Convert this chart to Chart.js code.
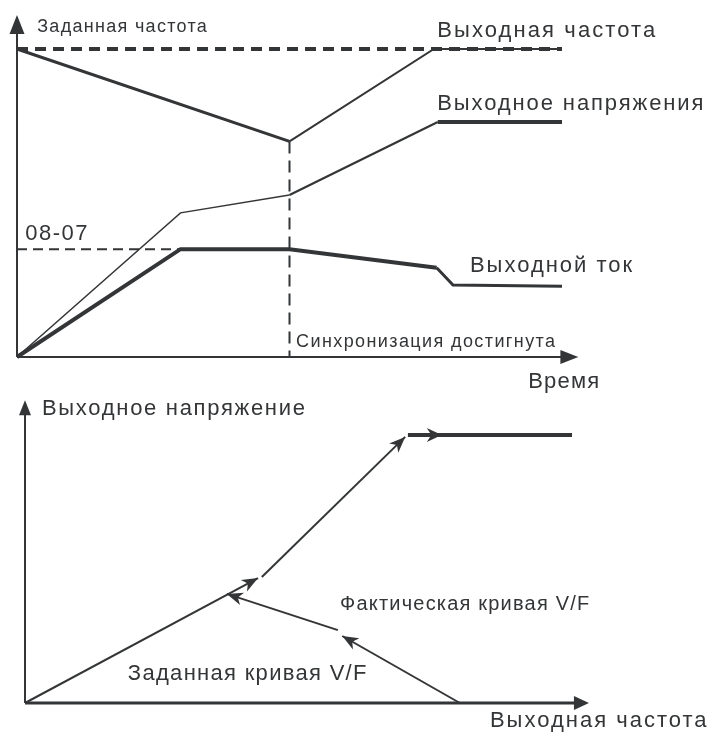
<!DOCTYPE html>
<html lang="ru">
<head>
<meta charset="UTF-8">
<title>Синхронизация частоты</title>
<script src="https://cdn.jsdelivr.net/npm/chart.js@4.4.0/dist/chart.umd.min.js"></script>
<style>
  body { margin: 0; background: #fff; }
  #wrap { position: relative; width: 709px; height: 736px; }
  canvas { position: absolute; left: 0; }
</style>
</head>
<body>
<div id="wrap">
  <canvas id="timeChart" width="709" height="395" style="top:0"></canvas>
  <canvas id="vfChart" width="709" height="346" style="top:390px"></canvas>
</div>
<script>
// ---- top diagram: time (0..100) vs level (0..100) ----
const freqTime = [0, 50, 76.5, 100];
const freqLevel = [100, 70, 100, 100];
const voltTime = [0, 30, 50, 77.2, 100];
const voltLevel = [0, 46.8, 52.6, 76.3, 76.3];
const currTime = [0, 30, 50, 77, 80, 100];
const currLevel = [0, 35, 35, 29, 23.4, 23];
const setFreqLevel = 100;
const limitLevel = 35;      // 08-07
const limitEndTime = 30;
const syncTime = 50;
const syncLevel = 70;

const topTexts = ['Заданная частота', 'Выходная частота', 'Выходное напряжения', '08-07',
  'Выходной ток', 'Синхронизация достигнута', 'Время'];

// ---- bottom diagram: output frequency (0..100) vs output voltage (0..100) ----
const setRiseF = [0, 42.6];
const setRiseV = [0, 46.6];
const setUpF = [43.3, 69.5];
const setUpV = [47, 99.3];
const setTopF = [70, 100];
const setTopV = [100, 100];
const actLowF = [79.5, 58];
const actLowV = [0, 25];
const actMidF = [57.2, 36.9];
const actMidV = [27.2, 40.7];
const topArrowAt = 76.2;

const bottomTexts = ['Выходное напряжение', 'Выходная частота', 'Фактическая кривая V/F', 'Заданная кривая V/F'];

const ink = '#333537';
const font = '"Liberation Sans", Arial, sans-serif';

function pts(xs, ys) {
  return xs.map((x, i) => ({ x: x, y: ys[i] }));
}

// notch = 1 gives a plain triangle, smaller values cut into the back
function arrowHead(ctx, x, y, ang, len, half, notch) {
  ctx.save();
  ctx.translate(x, y);
  ctx.rotate(ang);
  ctx.beginPath();
  ctx.moveTo(0, 0);
  ctx.lineTo(-len, -half);
  ctx.lineTo(-len * notch, 0);
  ctx.lineTo(-len, half);
  ctx.closePath();
  ctx.fillStyle = ink;
  ctx.fill();
  ctx.restore();
}

// axes with arrows + arrowheads on datasets + text labels
const sketchPlugin = {
  id: 'sketch',
  afterDatasetsDraw(chart, args, opts) {
    const ctx = chart.ctx;
    const xs = chart.scales.x, ys = chart.scales.y;
    const x0 = xs.getPixelForValue(0), y0 = ys.getPixelForValue(0);
    const xt = xs.getPixelForValue(opts.axisEnd.x), yt = ys.getPixelForValue(opts.axisEnd.y);
    ctx.save();
    ctx.strokeStyle = ink;
    ctx.lineCap = 'butt';
    // y axis
    ctx.lineWidth = opts.yAxisWidth;
    ctx.beginPath();
    ctx.moveTo(x0, y0);
    ctx.lineTo(x0, yt + 8);
    ctx.stroke();
    arrowHead(ctx, x0, yt, -Math.PI / 2, opts.yArrow[0], opts.yArrow[1], 1);
    // x axis
    ctx.lineWidth = opts.xAxisWidth;
    ctx.beginPath();
    ctx.moveTo(x0, y0);
    ctx.lineTo(xt - 8, y0);
    ctx.stroke();
    arrowHead(ctx, xt, y0, 0, opts.xArrow[0], opts.xArrow[1], 1);

    // arrowheads on datasets
    chart.data.datasets.forEach((ds, i) => {
      if (!ds.arrow) return;
      const meta = chart.getDatasetMeta(i);
      const pa = meta.data[meta.data.length - 2], pb = meta.data[meta.data.length - 1];
      const ang = Math.atan2(pb.y - pa.y, pb.x - pa.x);
      if (ds.arrow === 'end') {
        arrowHead(ctx, pb.x, pb.y, ang, 16, 6.5, 0.72);
      } else if (ds.arrow === 'mid') {
        const last = ds.data[ds.data.length - 1];
        arrowHead(ctx, xs.getPixelForValue(ds.arrowAt), ys.getPixelForValue(last.y), ang, 15, 7, 0.7);
      }
    });

    // texts
    ctx.fillStyle = ink;
    ctx.textBaseline = 'alphabetic';
    ctx.textAlign = 'left';
    opts.labels.forEach(l => {
      ctx.font = l.size + 'px ' + font;
      ctx.letterSpacing = (l.spacing || 0) + 'px';
      ctx.fillText(l.text, xs.getPixelForValue(l.x), ys.getPixelForValue(l.y));
    });
    ctx.restore();
  }
};

function baseOptions(padding, axisEnd, extra) {
  return {
    responsive: false,
    animation: false,
    layout: { padding: padding },
    scales: {
      x: { type: 'linear', display: false, min: 0, max: 100 },
      y: { type: 'linear', display: false, min: 0, max: 100 }
    },
    elements: { point: { radius: 0, hoverRadius: 0 }, line: { tension: 0, borderColor: ink } },
    plugins: {
      legend: { display: false },
      tooltip: { enabled: false },
      sketch: Object.assign({ axisEnd: axisEnd }, extra)
    }
  };
}

// ---------- top chart ----------
const freqWidths = [3, 2, 2];
const voltWidths = [1.5, 1.5, 2.2, 4];
const currWidths = [4, 4, 4, 3, 3];

new Chart(document.getElementById('timeChart'), {
  type: 'line',
  data: {
    datasets: [
      { data: [{ x: 0, y: setFreqLevel }, { x: 100, y: setFreqLevel }], borderColor: ink, borderWidth: 4, borderDash: [11, 7], clip: false },
      { data: pts(freqTime, freqLevel), borderColor: ink, clip: false, segment: { borderWidth: c => freqWidths[c.p0DataIndex] } },
      { data: [{ x: syncTime, y: syncLevel }, { x: syncTime, y: 0 }], borderColor: ink, borderWidth: 2, borderDash: [12, 7], clip: false },
      { data: [{ x: 0, y: limitLevel }, { x: limitEndTime, y: limitLevel }], borderColor: ink, borderWidth: 2, borderDash: [10, 6], clip: false },
      { data: pts(voltTime, voltLevel), borderColor: ink, clip: false, segment: { borderWidth: c => voltWidths[c.p0DataIndex] } },
      { data: pts(currTime, currLevel), borderColor: ink, clip: false, borderJoinStyle: 'miter', segment: { borderWidth: c => currWidths[c.p0DataIndex] } }
    ]
  },
  options: baseOptions({ left: 17, right: 147, top: 49, bottom: 38 }, { x: 103, y: 111 }, {
    xAxisWidth: 2, yAxisWidth: 2, xArrow: [18, 7], yArrow: [19, 7.5],
    labels: [
      { text: topTexts[0], x: 3.7, y: 105.5, size: 18, spacing: 1.3 },
      { text: topTexts[1], x: 77.1, y: 103.9, size: 22, spacing: 2.1 },
      { text: topTexts[2], x: 77.1, y: 80.2, size: 22, spacing: 1.9 },
      { text: topTexts[3], x: 1.5, y: 38, size: 22, spacing: 1.5 },
      { text: topTexts[4], x: 83.1, y: 27.6, size: 22, spacing: 2 },
      { text: topTexts[5], x: 51.2, y: 3.2, size: 18, spacing: 1.4 },
      { text: topTexts[6], x: 93.8, y: -10.1, size: 22, spacing: 1.2 }
    ]
  }),
  plugins: [sketchPlugin]
});

// ---------- bottom chart ----------
new Chart(document.getElementById('vfChart'), {
  type: 'line',
  data: {
    datasets: [
      { data: pts(setRiseF, setRiseV), borderColor: ink, borderWidth: 2, clip: false, arrow: 'end' },
      { data: pts(setUpF, setUpV), borderColor: ink, borderWidth: 2, clip: false, arrow: 'end' },
      { data: pts(setTopF, setTopV), borderColor: ink, borderWidth: 4, clip: false, arrow: 'mid', arrowAt: topArrowAt },
      { data: pts(actLowF, actLowV), borderColor: ink, borderWidth: 2, clip: false, arrow: 'end' },
      { data: pts(actMidF, actMidV), borderColor: ink, borderWidth: 2, clip: false, arrow: 'end' }
    ]
  },
  options: baseOptions({ left: 25, right: 137, top: 45, bottom: 33 }, { x: 103.1, y: 113 }, {
    xAxisWidth: 3, yAxisWidth: 2, xArrow: [15, 7], yArrow: [15, 6],
    labels: [
      { text: bottomTexts[0], x: 3.1, y: 107.5, size: 22, spacing: 1.7 },
      { text: bottomTexts[1], x: 85, y: -9, size: 22, spacing: 2 },
      { text: bottomTexts[2], x: 57.6, y: 34.7, size: 20, spacing: 1.2 },
      { text: bottomTexts[3], x: 18.8, y: 8.6, size: 22, spacing: 1.3 }
    ]
  }),
  plugins: [sketchPlugin]
});
</script>
</body>
</html>
